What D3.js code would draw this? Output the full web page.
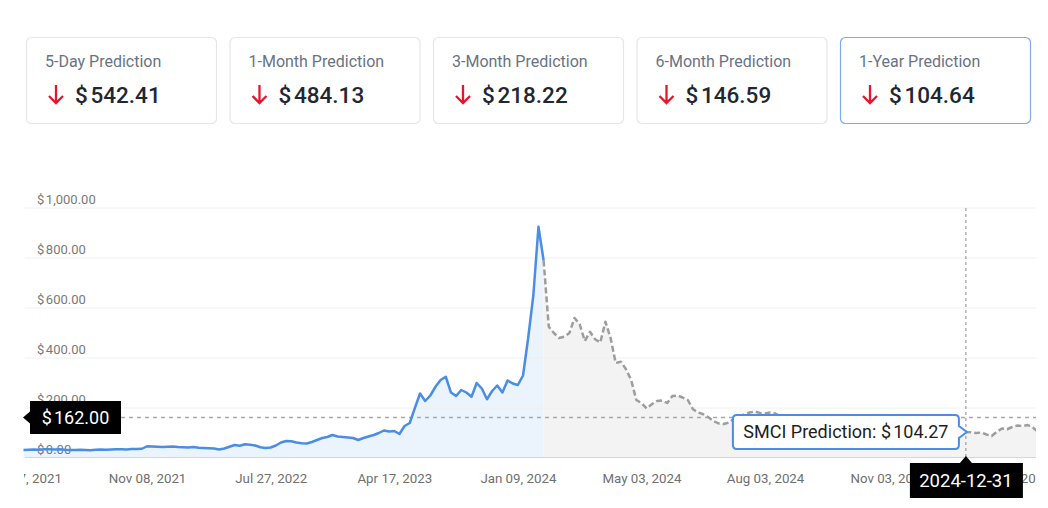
<!DOCTYPE html>
<html><head><meta charset="utf-8">
<script src="https://cdn.jsdelivr.net/npm/d3@7"></script>
<style>
html,body{margin:0;padding:0;background:#fff;}
svg{display:block;font-family:Roboto,"Noto Sans",sans-serif;}
</style></head><body>
<svg id="chart" width="1048" height="508"></svg>
<script>
// ---------- data ----------
const cardTitles = ["5-Day Prediction","1-Month Prediction","3-Month Prediction","6-Month Prediction","1-Year Prediction"];
const cardValues = [542.41, 484.13, 218.22, 146.59, 104.64];
const selectedCard = 4;

// historical closes (index 0..101)
const historical = [
 32,33,34,33,35,35,34,35,33,32,
 32,33,32,31,33,34,33,34,35,35,
 34,36,36,37,47,46,45,44,45,46,
 44,43,42,44,41,40,39,38,34,38,
 45,52,49,55,53,50,43,40,42,50,
 62,68,67,62,59,58,64,72,80,84,
 92,86,84,82,80,72,80,86,92,100,
 110,106,108,96,128,140,200,258,228,250,
 285,312,325,262,248,272,262,245,300,278,
 235,268,290,262,310,298,292,330,480,650,
 925,790];

// predicted path (index 101..197)
const predicted = [
 790,525,500,480,485,500,560,535,468,505,
 475,462,545,480,380,385,355,312,232,220,
 198,215,228,230,220,248,250,242,232,195,
 182,175,163,148,138,136,142,158,165,175,
 182,186,180,178,182,178,165,155,150,145,
 140,138,142,135,128,130,125,120,122,128,
 132,126,120,115,118,124,130,127,120,114,
 110,112,118,122,118,112,108,104,100,103,
 108,106,104.27,103,100,102,94,88,105,118,
 115,124,130,128,132,122,105];

const xTickLabels = ["Feb 17, 2021","Nov 08, 2021","Jul 27, 2022","Apr 17, 2023","Jan 09, 2024","May 03, 2024","Aug 03, 2024","Nov 03, 2024","Feb 03, 2025"];
const xTickStep = 24;
const yTicks = [0,200,400,600,800,1000];
const currentPrice = 162.00;
const ticker = "SMCI";
const hoverIndex = 183;
const hoverDate = "2024-12-31";
const hoverValue = 104.27;

// ---------- helpers ----------
const svg = d3.select("#chart");
const num = d3.format(",.2f");
function money(sel, v){
  sel.append("tspan").text("$");
  sel.append("tspan").attr("dx","0.12em").text(num(v));
  return sel;
}

// ---------- cards ----------
const cardX = d3.scaleLinear().domain([0,4]).range([26, 840]);
const cards = svg.append("g").selectAll("g").data(cardTitles).join("g")
  .attr("transform",(d,i)=>`translate(${cardX(i)},37)`);
cards.append("rect").attr("x",0.5).attr("y",0.5).attr("width",190).attr("height",86).attr("rx",5)
  .attr("fill","#fff").attr("stroke",(d,i)=>i===selectedCard?"#7ea9ea":"#e6e6e6").attr("stroke-width",1.2);
cards.append("text").attr("x",19).attr("y",30).attr("font-size",16).attr("fill","#697384").text(d=>d);
cards.append("path")
  .attr("d","M30,48 L30,66 M23,59 L30,66 L37,59")
  .attr("fill","none").attr("stroke","#e8142c").attr("stroke-width",2.3).attr("stroke-linecap","butt");
cards.each(function(d,i){
  money(d3.select(this).append("text").attr("x",49).attr("y",66).attr("font-size",22.5)
    .attr("font-weight",500).attr("fill","#1f2733"), cardValues[i]);
});

// ---------- chart ----------
const N = historical.length + predicted.length - 2; // last index
const x = d3.scaleLinear().domain([0, N]).range([23.5, 1038]);
const y = d3.scaleLinear().domain([0, 1000]).range([458, 208]);
const left = 25, right = 1036;
const predOffset = historical.length - 1;

svg.append("clipPath").attr("id","plotclip").append("rect").attr("x",20).attr("y",150).attr("width",right-20).attr("height",320);
const g = svg.append("g").attr("clip-path","url(#plotclip)");

// area fills
g.append("path").datum(historical)
  .attr("d", d3.area().x((d,i)=>x(i)).y0(y(0)).y1(d=>y(d)))
  .attr("fill","#ebf3fd");
g.append("path").datum(predicted)
  .attr("d", d3.area().x((d,i)=>x(i+predOffset)).y0(y(0)).y1(d=>y(d)))
  .attr("fill","#f3f3f3");

// gridlines
g.append("g").selectAll("line").data(yTicks.filter(t=>t>0)).join("line")
  .attr("x1",left).attr("x2",right).attr("y1",d=>y(d)).attr("y2",d=>y(d))
  .attr("stroke","#f0f0f0").attr("stroke-width",1);
g.append("line").attr("x1",left).attr("x2",right).attr("y1",y(0)-0.5).attr("y2",y(0)-0.5)
  .attr("stroke","#d6d6d6").attr("stroke-width",1);

// y labels
g.append("g").selectAll("text").data(yTicks).join("text")
  .attr("x",37).attr("y",d=>y(d)-4).attr("font-size",13).attr("fill","#7a7a7a")
  .each(function(d){ money(d3.select(this), d); });

// x axis labels (clipped)
svg.append("clipPath").attr("id","xclip").append("rect").attr("x",24).attr("y",460).attr("width",1012).attr("height",40);
const xAxis = d3.axisBottom(x)
  .tickValues(xTickLabels.map((d,i)=>i*xTickStep))
  .tickFormat((d,i)=>xTickLabels[i]).tickSize(0).tickPadding(0);
const xg = svg.append("g").attr("clip-path","url(#xclip)").append("g")
  .attr("transform","translate(0,470)").call(xAxis);
xg.select(".domain").remove();
xg.selectAll("text").attr("font-size",13.3).attr("fill","#6f6f6f")
  .attr("font-family","Roboto,'Noto Sans',sans-serif").attr("dy","0.95em");

// current price reference line
g.append("line").attr("x1",left).attr("x2",right).attr("y1",y(currentPrice)).attr("y2",y(currentPrice))
  .attr("stroke","#a8a8a8").attr("stroke-width",1.3).attr("stroke-dasharray","4,4");

// vertical hover line
g.append("line").attr("x1",x(hoverIndex)).attr("x2",x(hoverIndex)).attr("y1",y(1000)).attr("y2",y(0))
  .attr("stroke","#8a8a8a").attr("stroke-width",1).attr("stroke-dasharray","3,3");

// lines
g.append("path").datum(predicted)
  .attr("d", d3.line().x((d,i)=>x(i+predOffset)).y(d=>y(d)))
  .attr("fill","none").attr("stroke","#9d9d9d").attr("stroke-width",2.5)
  .attr("stroke-dasharray","6,3").attr("stroke-linejoin","round");
g.append("path").datum(historical)
  .attr("d", d3.line().x((d,i)=>x(i)).y(d=>y(d)))
  .attr("fill","none").attr("stroke","#4a8de3").attr("stroke-width",2.5).attr("stroke-linejoin","round");

// current price label (black box pointing left)
const cy = y(currentPrice);
const pl = svg.append("g");
pl.append("path").attr("d",`M23,${cy} L30,${cy-6} L30,${cy-16.5} L121,${cy-16.5} L121,${cy+16.5} L30,${cy+16.5} L30,${cy+6} Z`)
  .attr("fill","#000");
money(pl.append("text").attr("x",75.5).attr("y",cy+6.5).attr("text-anchor","middle")
  .attr("font-size",18).attr("fill","#fff"), currentPrice);

// prediction tooltip (white, blue border, pointer right)
const hx = x(hoverIndex) + 1, hy = y(hoverValue);
const bx1 = hx - 234, bx2 = hx - 8, by1 = hy - 17, by2 = hy + 17, r = 4;
svg.append("path")
  .attr("d",`M${bx1+r},${by1} L${bx2-r},${by1} Q${bx2},${by1} ${bx2},${by1+r} L${bx2},${hy-6} L${hx},${hy} L${bx2},${hy+6} L${bx2},${by2-r} Q${bx2},${by2} ${bx2-r},${by2} L${bx1+r},${by2} Q${bx1},${by2} ${bx1},${by2-r} L${bx1},${by1+r} Q${bx1},${by1} ${bx1+r},${by1} Z`)
  .attr("fill","#fff").attr("stroke","#4a8de3").attr("stroke-width",2);
const tt = svg.append("text").attr("x",(bx1+bx2)/2).attr("y",hy+6.5).attr("text-anchor","middle")
  .attr("font-size",18).attr("fill","#1e1e1e");
tt.append("tspan").text(ticker + " Prediction: ");
money(tt, hoverValue);

// date tooltip (black, pointer up)
const dx = x(hoverIndex);
svg.append("path")
  .attr("d",`M${dx},456 L${dx+6},463 L${dx+57},463 L${dx+57},498 L${dx-56},498 L${dx-56},463 L${dx-6},463 Z`)
  .attr("fill","#000");
svg.append("text").attr("x",dx).attr("y",487).attr("text-anchor","middle")
  .attr("font-size",18.5).attr("fill","#fff").text(hoverDate);
</script>
</body></html>
